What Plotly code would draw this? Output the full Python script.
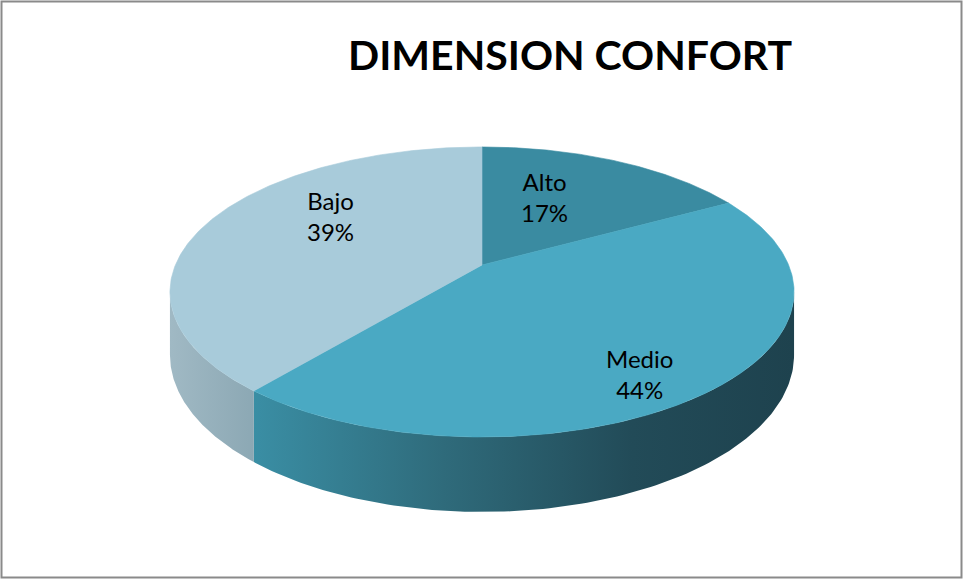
import numpy as np
import plotly.graph_objects as go

# ---- data ----
categories = ["Alto", "Medio", "Bajo"]
values = [17, 44, 39]
title_text = "DIMENSION CONFORT"

# ---- style ----
top_colors = ["#3A8BA1", "#4AA9C3", "#A8CBDA"]
side_gradients = {
    "Alto": [[0, "#2E6E80"], [1, "#2E6E80"]],
    "Medio": [[0, "#3A8EA4"], [0.35, "#2F6B7B"], [0.7, "#224B58"], [1, "#1E424E"]],
    "Bajo": [[0, "#A0B9C4"], [1, "#8CA8B4"]],
}
label_pos = {"Alto": (544, 197), "Medio": (639, 374), "Bajo": (330, 216)}

W, H = 964, 580
CX, CY = 482, 265      # projected pie vertex (px)
R, RY = 306.6, 140.0   # horizontal / depth radii
K = 0.186              # perspective strength
DEPTH = 61.0           # thickness


def proj(phi, t=0.0):
    """phi: clockwise angle from back (12 o'clock), t: 0 top face, 1 bottom."""
    x = np.sin(phi)
    z = np.cos(phi)
    d = 1 + K * z
    return CX + R * x / d, CY - RY * z / d + DEPTH * t / d


fig = go.Figure()

total = float(sum(values))
bounds = []
start = 0.0
for v in values:
    end = start + 2 * np.pi * v / total
    bounds.append((start, end))
    start = end

# visible side range (front half between silhouettes)
sil_r = np.arccos(-K)
sil_l = 2 * np.pi - sil_r

# sides first
for cat, (a, b) in zip(categories, bounds):
    lo, hi = max(a, sil_r), min(b, sil_l)
    if hi <= lo:
        continue
    ph = np.linspace(lo, hi, 120)
    xt, yt = proj(ph, 0)
    xb, yb = proj(ph[::-1], 1)
    xs = np.concatenate([xt, xb, xt[:1]])
    ys = np.concatenate([yt, yb, yt[:1]])
    fig.add_trace(go.Scatter(
        x=xs, y=ys, mode="lines", line=dict(width=0),
        fill="toself",
        fillgradient=dict(type="horizontal", colorscale=side_gradients[cat]),
        hoverinfo="skip", showlegend=False))

# top faces
for cat, (a, b), col in zip(categories, bounds, top_colors):
    ph = np.linspace(a, b, 200)
    xe, ye = proj(ph, 0)
    xs = np.concatenate([[CX], xe, [CX]])
    ys = np.concatenate([[CY], ye, [CY]])
    fig.add_trace(go.Scatter(
        x=xs, y=ys, mode="lines", line=dict(width=0.6, color=col),
        fill="toself", fillcolor=col,
        hoverinfo="skip", showlegend=False))

annotations = []
for cat, v in zip(categories, values):
    x, y = label_pos[cat]
    annotations.append(dict(
        x=x, y=y, xref="x", yref="y", showarrow=False,
        text=f"{cat}<br>{v}%",
        font=dict(family="Lato", size=24, color="#000000"),
        align="center"))

annotations.append(dict(
    x=570, y=54, xref="x", yref="y", showarrow=False,
    text=f"<b>{title_text}</b>",
    font=dict(family="Lato", size=41, color="#000000")))

fig.update_layout(
    width=W, height=H,
    margin=dict(l=0, r=0, t=0, b=0),
    paper_bgcolor="white", plot_bgcolor="white",
    xaxis=dict(range=[0, W], visible=False, fixedrange=True),
    yaxis=dict(range=[H, 0], visible=False, fixedrange=True),
    annotations=annotations,
    shapes=[dict(type="rect", xref="paper", yref="paper",
                 x0=1.5 / W, x1=(W - 2.5) / W, y0=2.5 / H, y1=(H - 1.5) / H,
                 line=dict(color="#8A8A8A", width=2))],
)

fig.write_html("out.html")
